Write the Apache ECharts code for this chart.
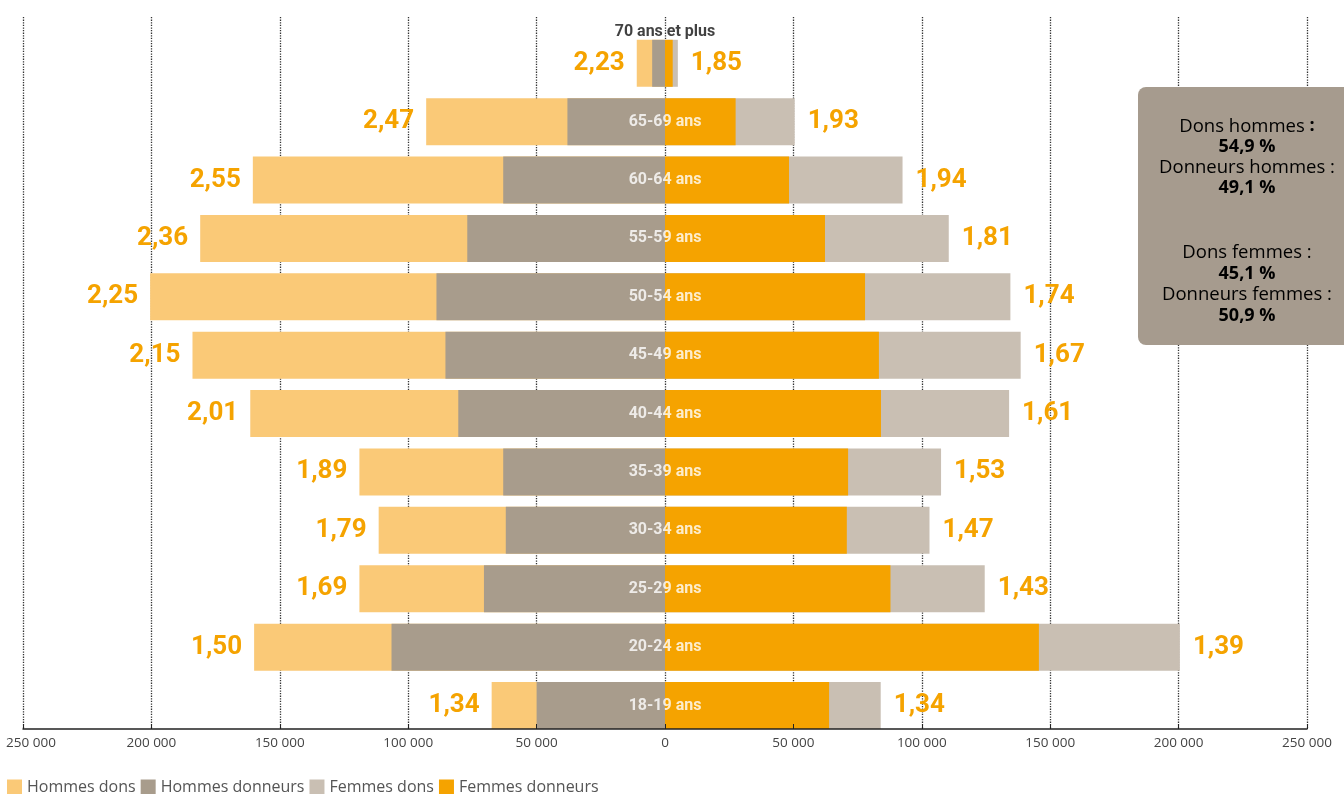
<!DOCTYPE html>
<html>
<head>
<meta charset="utf-8">
<script src="https://cdn.jsdelivr.net/npm/echarts@6/dist/echarts.min.js"></script>
<style>
  html, body { margin: 0; padding: 0; background: #fff; }
  #chart { width: 1344px; height: 794px; }
</style>
</head>
<body>
<div id="chart"></div>
<script>
// tranches d'age, du haut vers le bas
const categories = ["70 ans et plus", "65-69 ans", "60-64 ans", "55-59 ans", "50-54 ans", "45-49 ans",
  "40-44 ans", "35-39 ans", "30-34 ans", "25-29 ans", "20-24 ans", "18-19 ans"];
const hommesDons = [11000, 93000, 160500, 181000, 200500, 184000, 161500, 119000, 111500, 119000, 160000, 67500];
const hommesDonneurs = [5000, 38000, 63000, 77000, 89000, 85500, 80500, 63000, 62000, 70500, 106500, 50000];
const femmesDons = [5000, 50500, 92500, 110500, 134500, 138500, 134000, 107500, 103000, 124500, 200500, 84000];
const femmesDonneurs = [3000, 27500, 48300, 62300, 77900, 83300, 84100, 71300, 70800, 87800, 145600, 63900];
// dons par donneur
const ratioHommes = ["2,23", "2,47", "2,55", "2,36", "2,25", "2,15", "2,01", "1,89", "1,79", "1,69", "1,50", "1,34"];
const ratioFemmes = ["1,85", "1,93", "1,94", "1,81", "1,74", "1,67", "1,61", "1,53", "1,47", "1,43", "1,39", "1,34"];
const partsHommes = ["54,9 %", "49,1 %"];
const partsFemmes = ["45,1 %", "50,9 %"];

const colors = ["#fac977", "#a89c8c", "#c9bfb3", "#f5a300"];
const ratioLabel = {
  show: true,
  color: "#f5a300",
  fontFamily: "Roboto",
  fontWeight: "bold",
  fontSize: 26
};

function fmt(v) {
  return String(Math.abs(v)).replace(/\B(?=(\d{3})+(?!\d))/g, " ");
}

// libelles des tranches, poses sur l'axe zero
const ageLabels = categories.map((c, i) => {
  const item = { value: [0, c] };
  if (i === 0) item.label = { color: "#111", offset: [0, -31] };
  return item;
});

const chart = echarts.init(document.getElementById("chart"));
chart.setOption({
  animation: false,
  textStyle: { fontFamily: "Open Sans" },
  legend: {
    left: 2,
    top: 774,
    icon: "rect",
    itemWidth: 15,
    itemHeight: 15,
    itemGap: 5,
    textStyle: { fontSize: 16, color: "#555", fontFamily: "Open Sans" },
    data: ["Hommes dons", "Hommes donneurs", "Femmes dons", "Femmes donneurs"]
  },
  grid: [
    { left: 23, right: 37, top: 17, height: 712, outerBoundsMode: "none", containLabel: false },
    { left: 23, right: 37, top: 34.1, height: 700.6, outerBoundsMode: "none", containLabel: false }
  ],
  xAxis: [
    {
      gridIndex: 0, type: "value", min: -250000, max: 250000, interval: 50000,
      axisLine: { show: false }, axisTick: { show: false }, axisLabel: { show: false },
      splitLine: { show: true, lineStyle: { color: "#333", type: "dotted", width: 1.3 } }
    },
    {
      gridIndex: 0, type: "value", position: "bottom", min: -250000, max: 250000, interval: 50000, z: 5,
      axisLine: { show: true, lineStyle: { color: "#222", width: 1.5 } },
      axisTick: { show: true, inside: true, length: 5, lineStyle: { color: "#222" } },
      splitLine: { show: false },
      axisLabel: {
        color: "#444", fontSize: 13.5, margin: 7,
        formatter: function (v) {
          return v === -250000 ? "{first|" + fmt(v) + "}" : fmt(v);
        },
        rich: { first: { fontSize: 13.5, color: "#444", padding: [0, 0, 0, 16] } }
      }
    },
    {
      gridIndex: 1, type: "value", min: -250000, max: 250000, show: false
    }
  ],
  yAxis: [
    { gridIndex: 0, type: "value", min: 0, max: 1, show: false },
    {
      gridIndex: 1, type: "category", inverse: true, data: categories,
      axisLine: { show: false }, axisTick: { show: false }, axisLabel: { show: false }
    }
  ],
  series: [
    {
      name: "Hommes dons", type: "bar", xAxisIndex: 2, yAxisIndex: 1,
      data: hommesDons.map(v => -v), barWidth: 47, barGap: "-100%",
      itemStyle: { color: colors[0] },
      label: Object.assign({}, ratioLabel, {
        position: "left", distance: 12,
        formatter: p => ratioHommes[p.dataIndex]
      })
    },
    {
      name: "Hommes donneurs", type: "bar", xAxisIndex: 2, yAxisIndex: 1,
      data: hommesDonneurs.map(v => -v), barWidth: 47, barGap: "-100%",
      itemStyle: { color: colors[1] }
    },
    {
      name: "Femmes dons", type: "bar", xAxisIndex: 2, yAxisIndex: 1,
      data: femmesDons, barWidth: 47, barGap: "-100%",
      itemStyle: { color: colors[2] },
      label: Object.assign({}, ratioLabel, {
        position: "right", distance: 13,
        formatter: p => ratioFemmes[p.dataIndex]
      })
    },
    {
      name: "Femmes donneurs", type: "bar", xAxisIndex: 2, yAxisIndex: 1,
      data: femmesDonneurs, barWidth: 47, barGap: "-100%",
      itemStyle: { color: colors[3] }
    },
    {
      name: "ages", type: "scatter", xAxisIndex: 2, yAxisIndex: 1, z: 10,
      symbolSize: 1, itemStyle: { color: "rgba(0,0,0,0)" }, silent: true,
      data: ageLabels,
      label: {
        show: true, position: "inside", color: "#fff",
        fontFamily: "Roboto", fontWeight: "bold", fontSize: 16,
        formatter: p => p.value[1]
      }
    }
  ],
  graphic: [
    {
      type: "rect", left: 1138, top: 87, z: 20,
      shape: { width: 230, height: 258, r: 8 },
      style: { fill: "#a69b8e" }
    },
    {
      type: "text", x: 1247, y: 116, z: 21,
      style: {
        text: "{n|Dons hommes }{b|:}\n{b|" + partsHommes[0] + "}\n{n|Donneurs hommes :}\n{b|" + partsHommes[1] + "}",
        align: "center", verticalAlign: "top", lineHeight: 20.5,
        rich: {
          n: { fontFamily: "Open Sans", fontSize: 18.5, color: "#1d1d1b", lineHeight: 20.5 },
          b: { fontFamily: "Open Sans", fontSize: 18, fontWeight: "bold", color: "#1d1d1b", lineHeight: 20.5 }
        }
      }
    },
    {
      type: "text", x: 1247, y: 242, z: 21,
      style: {
        text: "{n|Dons femmes :}\n{b|" + partsFemmes[0] + "}\n{n|Donneurs femmes :}\n{b|" + partsFemmes[1] + "}",
        align: "center", verticalAlign: "top", lineHeight: 21,
        rich: {
          n: { fontFamily: "Open Sans", fontSize: 18.5, color: "#1d1d1b", lineHeight: 21 },
          b: { fontFamily: "Open Sans", fontSize: 18, fontWeight: "bold", color: "#1d1d1b", lineHeight: 21 }
        }
      }
    }
  ]
});
</script>
</body>
</html>
